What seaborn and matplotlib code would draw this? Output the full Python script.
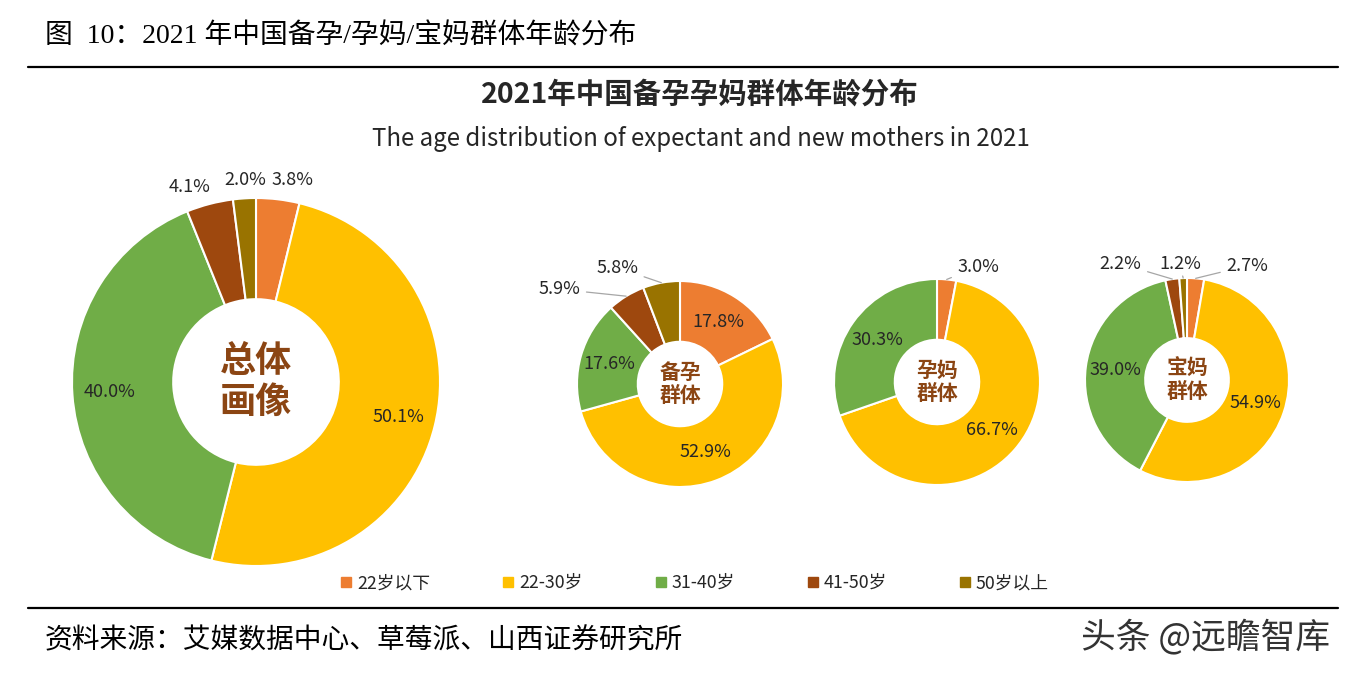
import numpy as np
import pandas as pd
import matplotlib
matplotlib.use("Agg")
import matplotlib.pyplot as plt
import seaborn as sns
from matplotlib.lines import Line2D

# ---------------- data ----------------
categories = ['22岁以下', '22-30岁', '31-40岁', '41-50岁', '50岁以上']
overall = [3.8, 50.1, 40.0, 4.1, 2.0]
preparing = [17.8, 52.9, 17.6, 5.9, 5.8]
pregnant = [3.0, 66.7, 30.3]
new_moms = [2.7, 54.9, 39.0, 2.2, 1.2]
center_names = ['总体\n画像', '备孕\n群体', '孕妈\n群体', '宝妈\n群体']

header = '图  10：2021 年中国备孕/孕妈/宝妈群体年龄分布'
title = '2021年中国备孕孕妈群体年龄分布'
subtitle = 'The age distribution of expectant and new mothers in 2021'
source = '资料来源：艾媒数据中心、草莓派、山西证券研究所'
watermark = '头条 @远瞻智库'

# ---------------- style ----------------
sns.set_theme(style='white')
plt.rcParams['font.family'] = ['Noto Sans CJK SC', 'DejaVu Sans']
palette = ['#ED7D31', '#FFC000', '#70AD47', '#9E480E', '#997300']
center_color = '#8B4513'
text_color = '#262626'

W, H = 1347, 675
fig = plt.figure(figsize=(W / 100, H / 100), dpi=100)
fig.patch.set_facecolor('white')

def fx(x):
    return x / W

def fy(y):
    return 1 - y / H

# header, rules
fig.text(fx(45), fy(37), header, fontsize=20, va='center', ha='left',
         family=['Liberation Serif', 'Noto Sans CJK SC'], color='black')
fig.add_artist(Line2D([fx(28), fx(1338)], [fy(67), fy(67)], color='black', lw=1.6))
fig.add_artist(Line2D([fx(28), fx(1338)], [fy(608), fy(608)], color='black', lw=1.6))
fig.text(fx(700), fy(95), title, fontsize=20.5, fontweight='bold', ha='center', va='center',
         color=text_color)
fig.text(fx(701), fy(139), subtitle, fontsize=17.3, ha='center', va='center', color=text_color)
fig.text(fx(45), fy(640), source, fontsize=20, ha='left', va='center', color='black')
fig.text(fx(1330), fy(637), watermark, fontsize=25, ha='right', va='center', color='#333333')

# layout: (center x, center y, radius) in pixels, hole ratio, label radius, font sizes
layouts = [
    dict(cx=256, cy=382, R=184, hole=0.45, lr=0.80, cfs=26, outside={
        0: (0.20, 1.10), 3: (-0.36, 1.06), 4: (-0.06, 1.10)}, leader=False),
    dict(cx=680, cy=384, R=103, hole=0.41, lr=0.71, cfs=15, outside={
        3: (-1.17, 0.92), 4: (-0.61, 1.13)}, leader=True),
    dict(cx=937, cy=382, R=103, hole=0.41, lr=0.71, cfs=15, outside={
        0: (0.40, 1.12)}, leader=True),
    dict(cx=1187, cy=380, R=102, hole=0.41, lr=0.71, cfs=15, outside={
        0: (0.59, 1.12), 4: (-0.07, 1.14), 3: (-0.65, 1.14)}, leader=True),
]
datasets = [overall, preparing, pregnant, new_moms]

for vals, lay, name in zip(datasets, layouts, center_names):
    R = lay['R']
    ax = fig.add_axes([fx(lay['cx'] - R), fy(lay['cy'] + R), 2 * R / W, 2 * R / H])
    cols = palette[:len(vals)]
    wedges, _ = ax.pie(vals, colors=cols, startangle=90, counterclock=False, radius=1,
                       wedgeprops=dict(width=1 - lay['hole'], edgecolor='white', linewidth=1.5))
    ax.set_xlim(-1, 1)
    ax.set_ylim(-1, 1)
    ax.set_aspect('equal')
    ax.axis('off')
    for i, (w, v) in enumerate(zip(wedges, vals)):
        mid = np.deg2rad((w.theta1 + w.theta2) / 2)
        lbl = f'{v:.1f}%'
        if i in lay['outside']:
            tx, ty = lay['outside'][i]
            if lay['leader']:
                ax.annotate(lbl, xy=(np.cos(mid) * 1.0, np.sin(mid) * 1.0), xytext=(tx, ty),
                            ha='center', va='center', fontsize=13, color=text_color,
                            annotation_clip=False,
                            arrowprops=dict(arrowstyle='-', color='#A6A6A6', lw=0.9,
                                            shrinkA=2, shrinkB=0))
            else:
                ax.text(tx, ty, lbl, ha='center', va='center', fontsize=13, color=text_color)
        else:
            r = lay['lr']
            ax.text(np.cos(mid) * r, np.sin(mid) * r, lbl, ha='center', va='center',
                    fontsize=13, color=text_color)
    ax.text(0, 0, name, ha='center', va='center', fontsize=lay['cfs'], fontweight='bold',
            color=center_color, linespacing=1.15)

# legend
handles = [Line2D([0], [0], marker='s', linestyle='none', markersize=7,
                  markerfacecolor=c, markeredgecolor=c) for c in palette]
fig.legend(handles, categories, loc='center', bbox_to_anchor=(fx(694), fy(583)), ncol=5,
           frameon=False, fontsize=12.8, handletextpad=0.2, columnspacing=4.0,
           handlelength=0.8, labelcolor=text_color)

fig.savefig('out.png', dpi=100, facecolor='white')
